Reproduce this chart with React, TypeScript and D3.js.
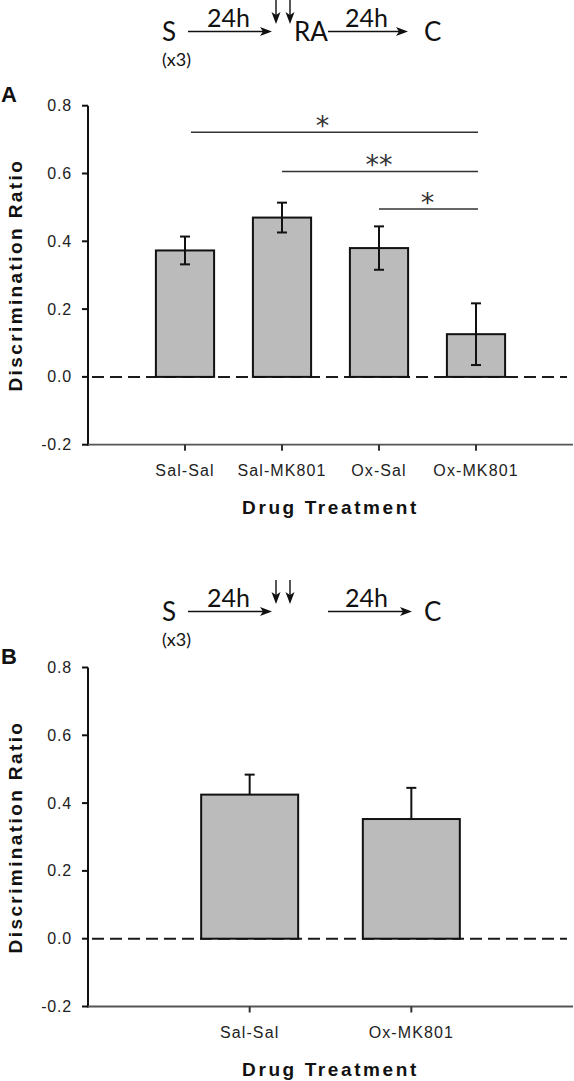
import React from "react";
import * as d3 from "d3";

const catsA = ["Sal-Sal", "Sal-MK801", "Ox-Sal", "Ox-MK801"];
const meansA = [0.373, 0.47, 0.38, 0.126];
const semA = [0.041, 0.044, 0.064, 0.091];

const catsB = ["Sal-Sal", "Ox-MK801"];
const meansB = [0.425, 0.353];
const semB = [0.059, 0.092];

const yTickValues = [-0.2, 0, 0.2, 0.4, 0.6, 0.8];

const sigFrom = ["Sal-Sal", "Sal-MK801", "Ox-Sal"];
const sigTo = ["Ox-MK801", "Ox-MK801", "Ox-MK801"];
const sigLevel = [0.722, 0.606, 0.495];
const sigLabel = ["*", "**", "*"];

const yTitle = "Discrimination Ratio";
const xTitle = "Drug Treatment";

const AX = "Liberation Sans, Arial, sans-serif";
const DIA = "Lato, 'Open Sans', sans-serif";

const fmt = (v: number) => (v < 0 ? "-" : "") + d3.format(".1f")(Math.abs(v));

function HArrow({ x1, x2, y }: { x1: number; x2: number; y: number }) {
  return (
    <g>
      <line x1={x1} x2={x2 - 6} y1={y} y2={y} stroke="#111" strokeWidth={1.4} />
      <path d={`M${x2},${y} L${x2 - 12},${y - 4.5} L${x2 - 9},${y} L${x2 - 12},${y + 4.5} Z`} fill="#111" />
    </g>
  );
}

function VArrow({ x, y1, y2 }: { x: number; y1: number; y2: number }) {
  return (
    <g>
      <line x1={x} x2={x} y1={y1} y2={y2 - 6} stroke="#111" strokeWidth={1.4} />
      <path d={`M${x},${y2} L${x - 4.5},${y2 - 12} L${x},${y2 - 9} L${x + 4.5},${y2 - 12} Z`} fill="#111" />
    </g>
  );
}

function Diagram({ oy, withRA, a2end }: { oy: number; withRA: boolean; a2end: number }) {
  return (
    <g>
      <text x={162} y={oy + 41} fontFamily={DIA} fontSize={26} fill="#111">S</text>
      <text x={162} y={oy + 66} fontFamily={DIA} fontSize={18} fill="#111">(x3)</text>
      <HArrow x1={188} x2={272} y={oy + 31.5} />
      <text x={207} y={oy + 27} fontFamily={DIA} fontSize={25} fill="#111">24h</text>
      <VArrow x={276} y1={oy} y2={oy + 24} />
      <VArrow x={290} y1={oy} y2={oy + 24} />
      {withRA && (
        <text x={294} y={oy + 41} fontFamily={DIA} fontSize={26} fill="#111">RA</text>
      )}
      <HArrow x1={328} x2={a2end} y={oy + 31.5} />
      <text x={345} y={oy + 27} fontFamily={DIA} fontSize={25} fill="#111">24h</text>
      <text x={424} y={oy + 41} fontFamily={DIA} fontSize={26} fill="#111">C</text>
    </g>
  );
}

function Panel({
  cats, means, sems, top, letter, lower, sig,
}: {
  cats: string[]; means: number[]; sems: number[]; top: number; letter: string; lower: boolean; sig: boolean;
}) {
  const left = 88;
  const right = 573;
  const bottom = top + 339;
  const x = d3.scalePoint<string>().domain(cats).range([left, right]).padding(1);
  const step = x.step();
  const bw = step * 0.6;
  const y = d3.scaleLinear().domain([-0.2, 0.8]).range([bottom, top]);
  const cap = 5;
  return (
    <g>
      <text x={1} y={top - 4} fontFamily={AX} fontWeight="bold" fontSize={22} fill="#111">{letter}</text>
      <line x1={left} x2={567} y1={y(0)} y2={y(0)} stroke="#1a1a1a" strokeWidth={2} strokeDasharray="12,6" strokeDashoffset={-4} />
      {cats.map((c, i) => {
        const cx = x(c)!;
        const yt = y(means[i]);
        return (
          <g key={c}>
            <rect x={cx - bw / 2} y={yt} width={bw} height={y(0) - yt} fill="#bbbbbb" stroke="#111" strokeWidth={2} />
            <line x1={cx} x2={cx} y1={y(means[i] + sems[i])} y2={lower ? y(means[i] - sems[i]) : yt} stroke="#111" strokeWidth={2} />
            <line x1={cx - cap} x2={cx + cap} y1={y(means[i] + sems[i])} y2={y(means[i] + sems[i])} stroke="#111" strokeWidth={2} />
            {lower && (
              <line x1={cx - cap} x2={cx + cap} y1={y(means[i] - sems[i])} y2={y(means[i] - sems[i])} stroke="#111" strokeWidth={2} />
            )}
          </g>
        );
      })}
      {sig &&
        sigFrom.map((f, i) => {
          const x1 = x(f)!;
          const x2 = x(sigTo[i])!;
          const yy = y(sigLevel[i]);
          return (
            <g key={"s" + i}>
              <line x1={i === 0 ? x1 + 6 : x1} x2={x2 + 2} y1={yy} y2={yy} stroke="#333" strokeWidth={1.5} />
              <text x={(x1 + x2) / 2 - (i === 0 ? 8 : 0)} y={yy + 3} textAnchor="middle" fontFamily="DejaVu Sans, sans-serif" fontSize={27} fill="#333">{sigLabel[i]}</text>
            </g>
          );
        })}
      <line x1={left} x2={left} y1={top} y2={bottom + 1} stroke="#111" strokeWidth={2} />
      {yTickValues.map((v) => (
        <g key={v}>
          <line x1={left - 6} x2={left} y1={y(v)} y2={y(v)} stroke="#111" strokeWidth={2} />
          <text x={72} y={y(v) + 5.5} textAnchor="end" fontFamily={AX} fontSize={16} letterSpacing={0.8} fill="#222">{fmt(v)}</text>
        </g>
      ))}
      <line x1={left} x2={right} y1={bottom} y2={bottom} stroke="#555" strokeWidth={1.8} />
      {cats.map((c) => (
        <g key={"t" + c}>
          <line x1={x(c)!} x2={x(c)!} y1={bottom} y2={bottom + 6} stroke="#333" strokeWidth={2} />
          <text x={x(c)!} y={bottom + 31.5} textAnchor="middle" fontFamily={AX} fontSize={16} letterSpacing={1.1} fill="#222">{c}</text>
        </g>
      ))}
      <text x={(left + right) / 2} y={bottom + 69} textAnchor="middle" fontFamily={AX} fontWeight="bold" fontSize={19} letterSpacing={2.6} fill="#111">{xTitle}</text>
      <text transform={`translate(22,${(top + bottom) / 2}) rotate(-90)`} textAnchor="middle" fontFamily={AX} fontWeight="bold" fontSize={19} letterSpacing={2.4} fill="#111">{yTitle}</text>
    </g>
  );
}

export default function App() {
  return (
    <svg width={574} height={1081} style={{ position: "absolute", left: 0, top: 0, background: "#fff" }}>
      <rect width={574} height={1081} fill="#fff" />
      <Diagram oy={0} withRA={true} a2end={408} />
      <Panel cats={catsA} means={meansA} sems={semA} top={105.7} letter="A" lower={true} sig={true} />
      <Diagram oy={580} withRA={false} a2end={412} />
      <Panel cats={catsB} means={meansB} sems={semB} top={667.5} letter="B" lower={false} sig={false} />
    </svg>
  );
}
